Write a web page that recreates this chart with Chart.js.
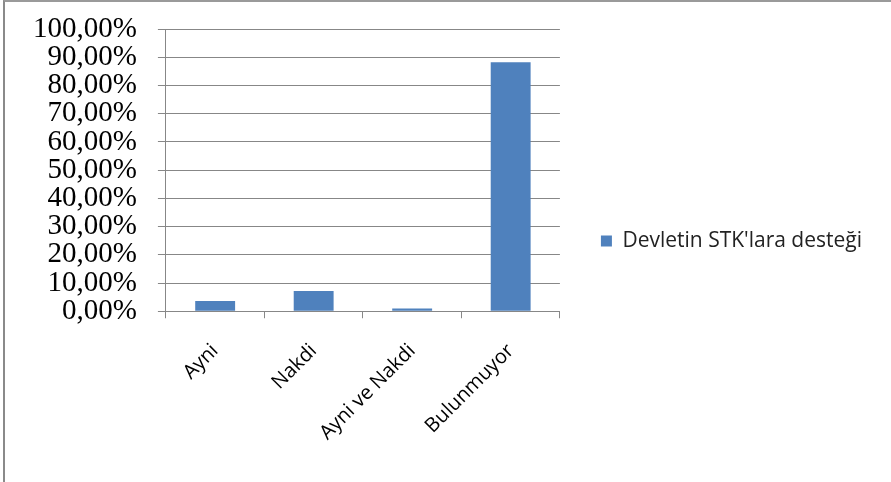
<!DOCTYPE html>
<html>
<head>
<meta charset="utf-8">
<script src="https://cdn.jsdelivr.net/npm/chart.js@4/dist/chart.umd.min.js"></script>
<style>
  html, body { margin: 0; padding: 0; background: #fff; }
  #wrap { position: relative; width: 891px; height: 482px; }
  #frame {
    position: absolute; left: 3px; top: 0; width: 886px; height: 480px;
    border-left: 2px solid #8a8a8a; border-top: 2px solid #9a9a9a;
    pointer-events: none;
  }
</style>
</head>
<body>
<div id="wrap">
  <canvas id="myChart" width="891" height="482"></canvas>
  <div id="frame"></div>
</div>
<script>
  //! DATA
  const categories = ["Ayni", "Nakdi", "Ayni ve Nakdi", "Bulunmuyor"];
  const seriesLabel = "Devletin STK'lara desteği";
  const seriesValues = [3.6, 7.2, 1.0, 88.2]; // percent
  const yTicks = [0, 10, 20, 30, 40, 50, 60, 70, 80, 90, 100];

  const gridColor = "#878787";

  // format like "10,00%"
  function pct(v) {
    return v.toFixed(2).replace(".", ",") + "%";
  }

  let ctx = document.getElementById("myChart");

  new Chart(ctx, {
    type: "bar",
    data: {
      labels: categories,
      datasets: [
        {
          label: seriesLabel,
          data: seriesValues,
          backgroundColor: "#4f81bd",
          borderWidth: 0,
          categoryPercentage: 1,
          barPercentage: 0.405
        }
      ]
    },
    options: {
      responsive: false,
      animation: false,
      layout: {
        padding: { left: 12, top: 16, right: 19, bottom: 16 }
      },
      plugins: {
        tooltip: { enabled: false },
        legend: {
          position: "right",
          maxWidth: 420,
          labels: {
            boxWidth: 11,
            boxHeight: 11,
            padding: 41,
            color: "#222",
            font: { family: "Open Sans", size: 21 }
          }
        }
      },
      scales: {
        x: {
          // drop the extra room Chart.js reserves for the rotated first label
          afterFit: (axis) => {
            axis.paddingLeft = 0;
            axis.paddingRight = 0;
          },
          grid: {
            offset: true,
            drawOnChartArea: false,
            color: gridColor,
            tickLength: 7
          },
          border: { color: gridColor },
          ticks: {
            minRotation: 45,
            maxRotation: 45,
            autoSkip: false,
            padding: 21,
            color: "#000",
            font: { family: "Open Sans", size: 20 }
          }
        },
        y: {
          min: 0,
          max: 100,
          afterBuildTicks: (axis) => {
            axis.ticks = yTicks.map(v => ({ value: v }));
          },
          // plot top sits at 29px, legend stays centred on the full height
          afterFit: (axis) => {
            axis.paddingTop = 29;
            axis.paddingBottom = 0;
          },
          grid: { color: gridColor, tickLength: 8 },
          border: { color: gridColor },
          ticks: {
            autoSkip: false,
            padding: 21,
            color: "#000",
            font: { family: "Liberation Serif", size: 29, lineHeight: 1 },
            callback: (v) => pct(v)
          }
        }
      }
    }
  });
</script>
</body>
</html>
